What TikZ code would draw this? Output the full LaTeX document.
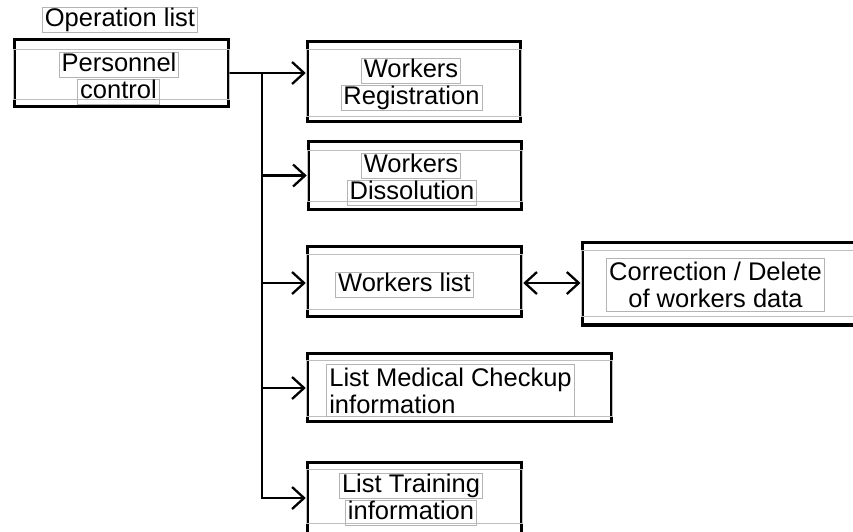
\documentclass[tikz,border=0pt]{standalone}
\usepackage{fontspec}
\setmainfont{Liberation Sans}
\usetikzlibrary{arrows.meta}
\definecolor{framegray}{HTML}{B4B4B4}
\definecolor{innergray}{HTML}{BEBEBE}
\tikzset{
  box/.style={draw=black, line width=3.5pt, rectangle, inner sep=0pt},
  lbl/.style={draw=framegray, line width=0.9pt, inner xsep=2.5pt, inner ysep=0.5pt,
    text height=18.5pt, text depth=5.5pt, font=\fontsize{25.5}{27}\selectfont},
  lbltwo/.style={draw=framegray, line width=0.9pt, inner xsep=2.5pt, inner ysep=3.5pt,
    font=\fontsize{25.5}{27}\selectfont},
  conn/.style={line width=2.3pt, line cap=round, line join=round},
  arr/.style={conn, -{Straight Barb[length=12pt,width=22pt,line width=2.3pt]}},
  darr/.style={conn, {Straight Barb[length=12pt,width=22pt,line width=2.3pt]}-{Straight Barb[length=12pt,width=22pt,line width=2.3pt]}},
  innerline/.style={draw=innergray, line width=1pt}
}
\newcommand{\innerrect}[3]{\draw[innerline] ([xshift=1pt]#1.west |- 0,#2) rectangle ([xshift=-1pt]#1.east |- 0,#3);}
\begin{document}
\begin{tikzpicture}[x=1pt,y=-1pt]
\useasboundingbox (0,0) rectangle (853,531);
\clip (0,0) rectangle (853,531);
% boxes
\node[box, minimum width=214, minimum height=67] (B1) at (121.5,73) {};
\node[box, minimum width=213, minimum height=80] (B2) at (414,81.5) {};
\node[box, minimum width=213, minimum height=68] (B3) at (415,175.5) {};
\node[box, minimum width=214, minimum height=70] (B4) at (414.5,281.5) {};
\node[box, minimum width=297.5, minimum height=82.5] (B5) at (731,283.75) {};
\node[box, minimum width=304, minimum height=68] (B6) at (459.5,387.5) {};
\node[box, minimum width=214, minimum height=97.5] (B7) at (414.5,511) {};
% inner gray frames
\innerrect{B1}{49}{99}
\innerrect{B2}{49}{116}
\innerrect{B3}{150}{201}
\innerrect{B4}{254}{309}
\innerrect{B5}{250}{316}
\innerrect{B6}{360}{416}
\innerrect{B7}{469}{523}
% labels
\node[lbl] (op) at (120,20) {Operation list};
\node[lbl] (t1a) at (119,65) {Personnel};
\node[lbl] (t1b) at (118.5,92) {control};
\node[lbl] (t2a) at (411,70.5) {Workers};
\node[lbl] (t2b) at (411.5,97.5) {Registration};
\node[lbl] (t3a) at (411,165.5) {Workers};
\node[lbl] (t3b) at (412,192.5) {Dissolution};
\node[lbl] (t4) at (404.5,284.5) {Workers list};
\node[lbltwo, align=center] (t5) at (715.5,285) {Correction / Delete\\of workers data};
\node[lbltwo, align=left] (t6) at (450.5,390.5) {List Medical Checkup\\information};
\node[lbl] (t7a) at (411,485.5) {List Training};
\node[lbl] (t7b) at (411,512.5) {information};
% connectors
\coordinate (j1) at (262,73);
\coordinate (j7) at (262,498);
\draw[conn] (B1.east |- j1) -- (j1) -- (j7);
\draw[arr] (j1) -- (B2.west |- j1);
\draw[arr] (j1 |- B3.west) -- (B3.west);
\draw[arr] (262,283) -- (B4.west |- 0,283);
\draw[arr] (262,388) -- (B6.west |- 0,388);
\draw[arr] (j7) -- (B7.west |- j7);
\draw[darr] (B4.east |- 0,283) -- (B5.west |- 0,283);
\end{tikzpicture}
\end{document}
